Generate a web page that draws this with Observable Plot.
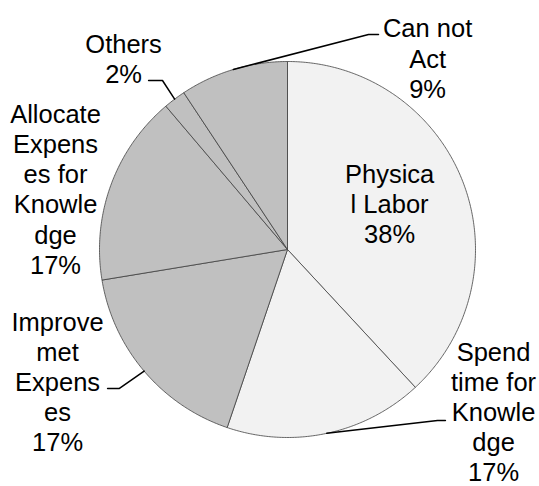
<!DOCTYPE html>
<html><head><meta charset="utf-8">
<script src="https://cdn.jsdelivr.net/npm/d3@7"></script>
<script src="https://cdn.jsdelivr.net/npm/@observablehq/plot@0.6"></script>
<style>body{margin:0;background:#fff}#chart svg{display:block}</style>
</head><body><div id="chart"></div>
<script>
// ---- data ----
const categories = ["Physical Labor","Spend time for Knowledge","Improvemet Expenses","Allocate Expenses for Knowledge","Others","Can not Act"];
// slice shares as drawn in the picture
const values = [38.1, 17.1, 17.2, 16.4, 1.9, 9.3];
// percentage labels as printed
const pctLabels = ["38%","17%","17%","17%","2%","9%"];
const labelLines = [["Physica","l Labor"],["Spend","time for","Knowle","dge"],["Improve","met","Expens","es"],["Allocate","Expens","es for","Knowle","dge"],["Others"],["Can not","Act"]];
const sliceColors = ["#f2f2f2","#f2f2f2","#c0c0c0","#c0c0c0","#c0c0c0","#c0c0c0"];

// ---- layout (in units of pie radius, origin at pie centre) ----
const labelPos = [[0.543,0.245],[1.096,-0.860],[-1.223,-0.700],[-1.234,0.323],[-0.872,1.018],[0.745,1.019]];
const leaderBend = [null,[[0.798,-0.910],[0.840,-0.910]],[[-0.894,-0.739],[-0.957,-0.739]],null,[[-0.665,0.899],[-0.739,0.899]],[[0.431,1.144],[0.484,1.144]]];

const total = d3.sum(values);
let acc = 0;
const slicePts = [], leaders = [], labels = [];
categories.forEach((c,i)=>{
  const a0 = acc/total*2*Math.PI; acc += values[i]; const a1 = acc/total*2*Math.PI;
  slicePts.push({cat:c,x:0,y:0});
  const n = Math.max(2, Math.ceil((a1-a0)/(Math.PI/360)));
  for(let k=0;k<=n;k++){const a=a0+(a1-a0)*k/n; slicePts.push({cat:c,x:Math.sin(a),y:Math.cos(a)});}
  slicePts.push({cat:c,x:0,y:0});
  const am = (a0+a1)/2;
  if (leaderBend[i]) {
    leaders.push({cat:c,x:Math.sin(am),y:Math.cos(am)});
    leaderBend[i].forEach(p=>leaders.push({cat:c,x:p[0],y:p[1]}));
  }
  labels.push({x:labelPos[i][0],y:labelPos[i][1],text:[...labelLines[i], pctLabels[i]].join("\n")});
});

const chart = Plot.plot({
  width: 539, height: 486,
  marginLeft: 99, marginRight: 64, marginTop: 61, marginBottom: 49,
  x: {domain:[-1,1], axis:null},
  y: {domain:[-1,1], axis:null},
  color: {domain: categories, range: sliceColors},
  style: {fontFamily: "Arial, 'Liberation Sans', sans-serif", background: "#fff"},
  marks: [
    Plot.line(slicePts, {x:"x", y:"y", z:"cat", fill:"cat", stroke:"#404040", strokeWidth:0.8, strokeLinejoin:"round"}),
    Plot.line(leaders, {x:"x", y:"y", z:"cat", stroke:"#000", strokeWidth:1.5}),
    Plot.text(labels, {x:"x", y:"y", text:"text", fontSize:25.5, lineHeight:1.18, textAnchor:"middle", fill:"#000"})
  ]
});
document.getElementById("chart").appendChild(chart);
</script>
</body></html>
